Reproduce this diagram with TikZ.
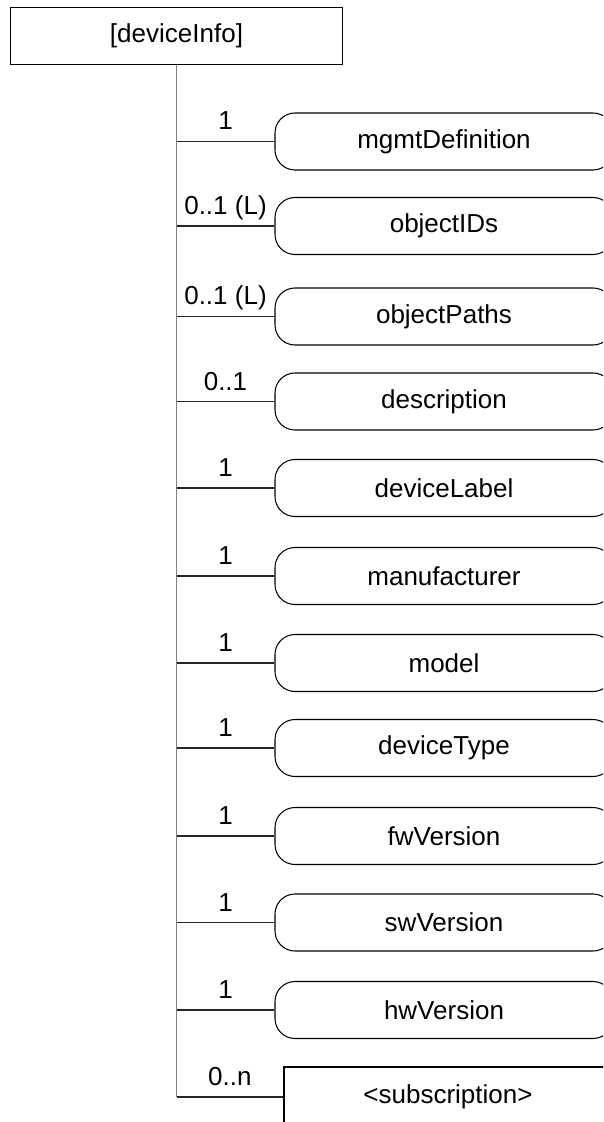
\documentclass[tikz,border=0pt]{standalone}
\usepackage{fontspec}
\setmainfont{Liberation Sans}
\usepackage{tikz}
\usetikzlibrary{positioning}
\tikzset{
  raiz/.style={rectangle,draw=black,line width=0.8pt,
    minimum width=6.64cm,minimum height=1.15cm,inner sep=0pt},
  atributo/.style={rectangle,rounded corners=0.4cm,draw=black,line width=0.6pt,
    minimum width=6.76cm,minimum height=1.14cm,inner sep=0pt},
  recurso/.style={rectangle,draw=black,line width=0.8pt,
    minimum width=6.56cm,minimum height=1.2cm,inner sep=0pt},
  tronco/.style={line width=1.1pt,draw=gray},
  rama/.style={line width=0.6pt,draw=black!85},
  etiqueta/.style={midway,anchor=base,yshift=0.23cm,inner sep=0pt}
}

\begin{document}
\begin{tikzpicture}[font=\fontsize{14.8}{17}\selectfont]

\useasboundingbox (0,0) rectangle (12.06,-22.44);
\clip (0,0) rectangle (12.06,-22.44);

% 1. Recurso raiz
\node[raiz] (deviceinfo) at (3.53,-0.72) {[deviceInfo]};

% 2. Atributos hijos
\node[atributo] (mgmt) at (8.88,-2.83) {mgmtDefinition};
\node[atributo] (objids) at (8.88,-4.52) {objectIDs};
\node[atributo] (objpaths) at (8.88,-6.33) {objectPaths};
\node[atributo] (descr) at (8.88,-8.03) {description};
\node[atributo] (label) at (8.88,-9.76) {deviceLabel};
\node[atributo] (manuf) at (8.88,-11.52) {manufacturer};
\node[atributo] (model) at (8.88,-13.26) {model};
\node[atributo] (devtype) at (8.88,-14.96) {deviceType};
\node[atributo] (fw) at (8.88,-16.72) {fwVersion};
\node[atributo] (sw) at (8.88,-18.45) {swVersion};
\node[atributo] (hw) at (8.88,-20.20) {hwVersion};
\node[recurso] (subs) at (8.96,-21.94) {<subscription>};

% 3. Tronco y ramas con multiplicidad
\coordinate (fin) at (deviceinfo.south |- subs.west);
\draw[tronco] (deviceinfo.south) -- (fin);
\draw[rama] (mgmt.west -| fin) -- node[etiqueta]{1} (mgmt.west);
\draw[rama] (objids.west -| fin) -- node[etiqueta]{0..1 (L)} (objids.west);
\draw[rama] (objpaths.west -| fin) -- node[etiqueta]{0..1 (L)} (objpaths.west);
\draw[rama] (descr.west -| fin) -- node[etiqueta]{0..1} (descr.west);
\draw[rama] (label.west -| fin) -- node[etiqueta]{1} (label.west);
\draw[rama] (manuf.west -| fin) -- node[etiqueta]{1} (manuf.west);
\draw[rama] (model.west -| fin) -- node[etiqueta]{1} (model.west);
\draw[rama] (devtype.west -| fin) -- node[etiqueta]{1} (devtype.west);
\draw[rama] (fw.west -| fin) -- node[etiqueta]{1} (fw.west);
\draw[rama] (sw.west -| fin) -- node[etiqueta]{1} (sw.west);
\draw[rama] (hw.west -| fin) -- node[etiqueta]{1} (hw.west);
\draw[rama] (fin) -- node[etiqueta]{0..n} (subs.west);

\end{tikzpicture}
\end{document}
